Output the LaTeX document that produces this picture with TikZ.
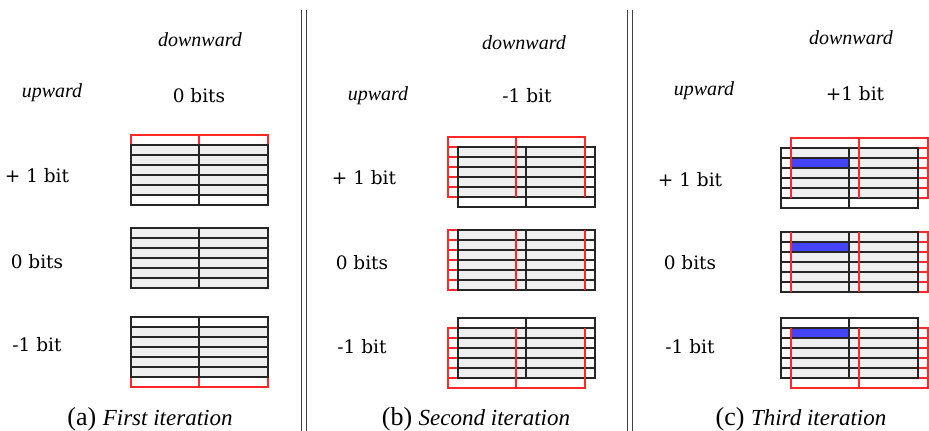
\documentclass[tikz,border=0pt]{standalone}
\usepackage{fontspec}
\setmainfont{Liberation Serif}
\newfontfamily\labelfont{DejaVu Serif}
\definecolor{gridred}{RGB}{255,40,40}
\definecolor{cellgrey}{RGB}{239,239,239}
\definecolor{barblue}{RGB}{68,68,250}
\tikzset{
  gridline/.style={draw=black!85, line width=1.1pt},
  redline/.style={draw=gridred, line width=1.1pt},
  lbl/.style={font=\labelfont\fontsize{18.5}{22}\selectfont, inner sep=0pt},
  dirlbl/.style={font=\fontsize{20}{22}\selectfont\itshape, inner sep=0pt},
  capnum/.style={font=\fontsize{26}{28}\selectfont, inner sep=0pt, anchor=base},
  sepline/.style={draw=black!75, line width=1pt},
}
% outline, middle column and five row lines of a 2 x 6 block
\newcommand\gridbody[3]{%
  \draw[#3] ({#1},{#2}) rectangle ++(137,60);
  \draw[#3] ({#1+68},{#2}) -- ++(0,60);
  \foreach \k in {1,...,5} \draw[#3] ({#1},{#2+10*\k}) -- ++(137,0);
}
% black block at (x,y), red block shifted by (dx,dy);
% #5: extra drawing under the lines, #6 = 1 puts the red columns on top
\newcommand\bitgrid[6]{%
  \begin{scope}
    \clip ({#1},{#2}) rectangle ++(137,60);
    \fill[cellgrey] ({#1+#3},{#2+#4}) rectangle ++(137,60);
  \end{scope}
  #5
  \gridbody{#1+#3}{#2+#4}{redline}
  \gridbody{#1}{#2}{gridline}
  \ifnum#6=1
    \draw[redline] ({#1+#3},{#2+#4}) -- ++(0,60);
    \draw[redline] ({#1+#3+68},{#2+#4}) -- ++(0,60);
    \draw[redline] ({#1+#3+137},{#2+#4}) -- ++(0,60);
  \fi
}
\newcommand\bluebar[2]{%
  \fill[barblue] ({#1+11},{#2+10}) rectangle ({#1+68},{#2+20});
}
\begin{document}
\begin{tikzpicture}[x=1pt,y=-1pt]
  \useasboundingbox (0,0) rectangle (929,431);

  % panel separators
  \draw[sepline] (301,10) -- (301,431);
  \draw[sepline] (306,10) -- (306,431);
  \draw[sepline] (627,10) -- (627,431);
  \draw[sepline] (632,10) -- (632,431);

  % (a) first iteration
  \node[dirlbl] (adown) at (200,40) {downward};
  \node[dirlbl] (aup) at (52,93) {upward};
  \node[lbl] (ashift) at (199,96) {0 bits};
  \node[lbl] (ap1) at (37,176) {+ 1 bit};
  \node[lbl] (a0) at (37,262) {0 bits};
  \node[lbl] (am1) at (37,345) {-1 bit};
  \bitgrid{131}{145}{0}{-10}{}{0}
  \bitgrid{131}{228}{0}{0}{}{0}
  \bitgrid{131}{317}{0}{10}{}{0}
  \node[capnum] (acap) at (150,425) {(a) {\fontsize{23}{26}\selectfont\itshape First iteration}};

  % (b) second iteration
  \node[dirlbl] (bdown) at (524,43) {downward};
  \node[dirlbl] (bup) at (378,96) {upward};
  \node[lbl] (bshift) at (527,96) {-1 bit};
  \node[lbl] (bp1) at (364,178) {+ 1 bit};
  \node[lbl] (b0) at (362,263) {0 bits};
  \node[lbl] (bm1) at (362,347) {-1 bit};
  \bitgrid{458}{147}{-10}{-10}{}{1}
  \bitgrid{458}{230}{-10}{0}{}{1}
  \bitgrid{458}{318}{-10}{10}{}{1}
  \node[capnum] (bcap) at (476,425) {(b) {\fontsize{23}{26}\selectfont\itshape Second iteration}};

  % (c) third iteration
  \node[dirlbl] (cdown) at (851,38) {downward};
  \node[dirlbl] (cup) at (704,91) {upward};
  \node[lbl] (cshift) at (855,94) {+1 bit};
  \node[lbl] (cp1) at (690,180) {+ 1 bit};
  \node[lbl] (c0) at (690,263) {0 bits};
  \node[lbl] (cm1) at (690,347) {-1 bit};
  \bitgrid{781}{148}{10}{-10}{\bluebar{781}{148}}{1}
  \bitgrid{781}{232}{10}{0}{\bluebar{781}{232}}{1}
  \bitgrid{781}{318}{10}{10}{\bluebar{781}{318}}{1}
  \node[capnum] (ccap) at (801,425) {(c) {\fontsize{23}{26}\selectfont\itshape Third iteration}};
\end{tikzpicture}
\end{document}
